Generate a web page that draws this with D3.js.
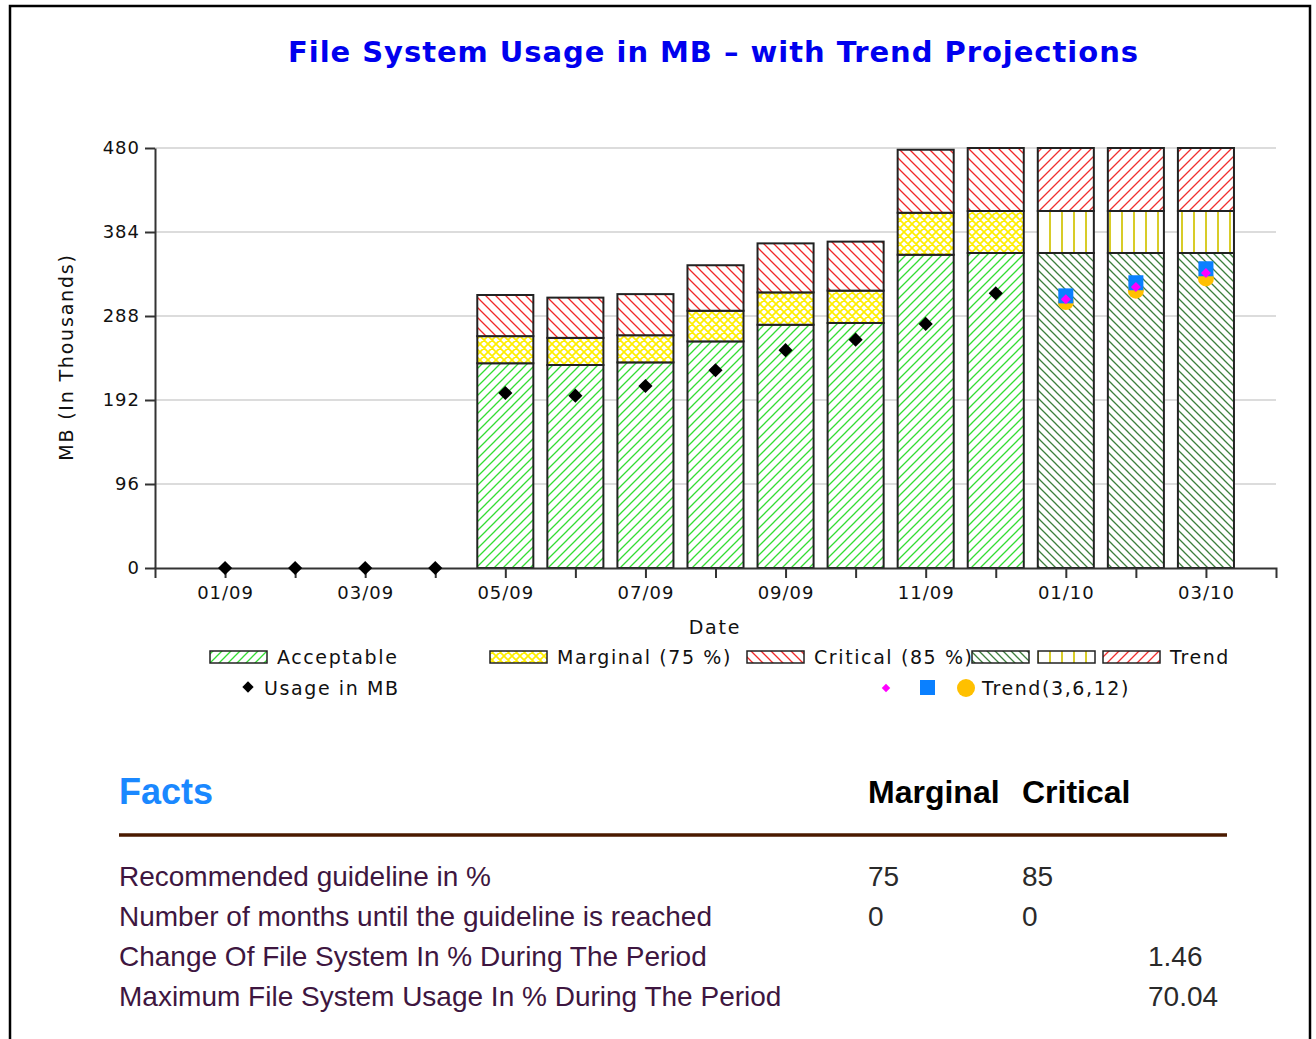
<!DOCTYPE html>
<html lang="en">
  <head>
    <meta charset="utf-8">
    <title>File System Usage in MB</title>
    <script src="https://d3js.org/d3.v7.min.js"></script>
    <style>
      body { margin: 0; background: #fff; }
      .chart text { font-family: "DejaVu Sans", sans-serif; }
      .facts text { font-family: "Liberation Sans", Arial, sans-serif; }
    </style>
  </head>
  <body>
    <div id="chart"></div>
    <script type="text/javascript">
      // months on the x axis, the last three are projections
      const months = ["01/09", "02/09", "03/09", "04/09", "05/09", "06/09", "07/09", "08/09",
                      "09/09", "10/09", "11/09", "12/09", "01/10", "02/10", "03/10"];
      const trendMonths = ["01/10", "02/10", "03/10"];

      // stacked thresholds, in thousands of MB
      const acceptable = [0, 0, 0, 0, 234, 232, 235, 259, 278, 280, 358, 360, 360, 360, 360];
      const marginal   = [0, 0, 0, 0, 31, 31, 31, 35, 37, 37, 48, 48, 48, 48, 48];
      const critical   = [0, 0, 0, 0, 47, 46, 47, 52, 56, 56, 72, 72, 72, 72, 72];

      // measured usage (first twelve months) and the trend projections
      const usage   = [0, 0, 0, 0, 200, 197, 208, 226, 249, 261, 279, 314];
      const trend3  = [307, 321, 337];
      const trend6  = [311, 326, 342];
      const trend12 = [304, 317, 331];

      const yTicks = [0, 96, 192, 288, 384, 480];

      const legendLabels = ["Acceptable", "Marginal (75 %)", "Critical (85 %)", "", "", "Trend"];
      const legendMarkerLabels = ["Usage in MB", "Trend(3,6,12)"];

      const factHeaders = ["Facts", "Marginal", "Critical"];
      const factLabels = ["Recommended guideline in %",
                          "Number of months until the guideline is reached",
                          "Change Of File System In % During The Period",
                          "Maximum File System Usage In % During The Period"];
      const factMarginal = ["75", "0", "", ""];
      const factCritical = ["85", "0", "", ""];
      const factPeriod   = ["", "", "1.46", "70.04"];

      function drawChart() {
          const W = 1316, H = 1039;
          const left = 155, right = 1276, top = 148, bottom = 568;

          const svg = d3.select("#chart")
              .append("svg")
              .attr("class", "chart")
              .attr("width", W)
              .attr("height", H);

          svg.append("rect")
              .attr("x", 10).attr("y", 6)
              .attr("width", 1300).attr("height", 1050)
              .attr("fill", "#fff")
              .attr("stroke", "#000")
              .attr("stroke-width", 2.5);

          // hatch patterns
          const defs = svg.append("defs");
          function pattern(id, size, color, width, d) {
              const p = defs.append("pattern")
                  .attr("id", id)
                  .attr("patternUnits", "userSpaceOnUse")
                  .attr("width", size)
                  .attr("height", size);
              p.append("rect").attr("width", size).attr("height", size).attr("fill", "#fff");
              p.append("path")
                  .attr("d", d)
                  .attr("stroke", color)
                  .attr("stroke-width", width)
                  .attr("fill", "none");
          }
          const fwd = s => `M-1,1 L1,-1 M0,${s} L${s},0 M${s - 1},${s + 1} L${s + 1},${s - 1}`;
          const back = s => `M-1,${s - 1} L1,${s + 1} M0,0 L${s},${s} M${s - 1},-1 L${s + 1},1`;
          pattern("acc", 9, "#33dd33", 1.3, fwd(9));
          pattern("mar", 8, "#ffee00", 1.7, fwd(8) + back(8));
          pattern("cri", 10, "#f02828", 1.3, back(10));
          pattern("tacc", 8, "#3d7f3d", 1.3, back(8));
          pattern("tmar", 12, "#d8cc28", 2, "M6,0 V12");
          pattern("tcri", 10, "#f03030", 1.3, fwd(10));

          const x = d3.scalePoint()
              .domain(months)
              .range([left, right])
              .padding(1);

          const y = d3.scaleLinear()
              .domain([0, 480])
              .range([bottom, top]);

          const bw = x.step() * 0.8;

          // grid
          svg.append("g")
              .selectAll("line")
              .data(yTicks.filter(v => v > 0))
              .join("line")
              .attr("x1", left).attr("x2", right)
              .attr("y1", d => y(d)).attr("y2", d => y(d))
              .attr("stroke", "#dcdcdc")
              .attr("stroke-width", 2);

          // stacked bars
          const table = months.map((m, i) => ({
              month: m, acceptable: acceptable[i], marginal: marginal[i], critical: critical[i]
          }));
          const keys = ["acceptable", "marginal", "critical"];
          const stacked = d3.stack().keys(keys)(table);
          const fills = {acceptable: ["acc", "tacc"], marginal: ["mar", "tmar"], critical: ["cri", "tcri"]};

          svg.append("g")
              .selectAll("g")
              .data(stacked)
              .join("g")
              .each(function(layer) {
                  d3.select(this).selectAll("rect")
                      .data(layer.filter(d => d[1] > d[0]))
                      .join("rect")
                      .attr("x", d => x(d.data.month) - bw / 2)
                      .attr("width", bw)
                      .attr("y", d => y(d[1]))
                      .attr("height", d => y(d[0]) - y(d[1]))
                      .attr("fill", d => "url(#" + fills[layer.key][trendMonths.includes(d.data.month) ? 1 : 0] + ")")
                      .attr("stroke", "#222")
                      .attr("stroke-width", 2);
              });

          // axes
          const xAxis = svg.append("g")
              .attr("transform", `translate(0,${bottom})`)
              .call(d3.axisBottom(x).tickSize(10).tickSizeOuter(10).tickPadding(8));
          xAxis.selectAll(".tick text")
              .style("display", (d, i) => i % 2 === 0 ? null : "none");

          const yAxis = svg.append("g")
              .attr("transform", `translate(${left},0)`)
              .call(d3.axisLeft(y).tickValues(yTicks).tickSize(10).tickSizeOuter(0).tickPadding(5));

          [xAxis, yAxis].forEach(a => {
              a.selectAll("path, line").attr("stroke", "#333").attr("stroke-width", 2);
              a.selectAll("text")
                  .attr("font-family", "DejaVu Sans")
                  .attr("font-size", 18)
                  .attr("letter-spacing", 1)
                  .attr("fill", "#111");
          });

          // usage markers
          const diamond = s => d3.symbol(d3.symbolSquare, s)();
          svg.append("g")
              .selectAll("path")
              .data(usage)
              .join("path")
              .attr("d", diamond(100))
              .attr("transform", (d, i) => `translate(${x(months[i])},${y(d)}) rotate(45)`)
              .attr("fill", "#000");

          // trend markers
          const tg = svg.append("g");
          tg.selectAll("circle")
              .data(trend12)
              .join("circle")
              .attr("cx", (d, i) => x(trendMonths[i]))
              .attr("cy", d => y(d))
              .attr("r", 8)
              .attr("fill", "#ffc000");
          tg.selectAll("rect")
              .data(trend6)
              .join("rect")
              .attr("x", (d, i) => x(trendMonths[i]) - 7.5)
              .attr("y", d => y(d) - 7.5)
              .attr("width", 15).attr("height", 15)
              .attr("fill", "#0a80ff");
          tg.selectAll("path")
              .data(trend3)
              .join("path")
              .attr("d", diamond(50))
              .attr("transform", (d, i) => `translate(${x(trendMonths[i])},${y(d)}) rotate(45)`)
              .attr("fill", "#ff00ff");

          // titles
          svg.append("text")
              .attr("x", 713).attr("y", 62)
              .attr("text-anchor", "middle")
              .attr("font-size", 29)
              .attr("font-weight", "bold")
              .attr("textLength", 850)
              .attr("lengthAdjust", "spacing")
              .attr("fill", "#0000ee")
              .text("File System Usage in MB \u2013 with Trend Projections");

          svg.append("text")
              .attr("transform", "translate(73,357) rotate(-90)")
              .attr("text-anchor", "middle")
              .attr("font-size", 19)
              .attr("letter-spacing", 1.8)
              .attr("fill", "#111")
              .text("MB (In Thousands)");

          svg.append("text")
              .attr("x", 715).attr("y", 634)
              .attr("text-anchor", "middle")
              .attr("font-size", 19)
              .attr("letter-spacing", 1.8)
              .attr("fill", "#111")
              .text("Date");

          // legend
          const swatchX = [210, 490, 747, 972, 1038, 1103];
          const swatchFill = ["acc", "mar", "cri", "tacc", "tmar", "tcri"];
          const lg = svg.append("g");
          lg.selectAll("rect")
              .data(swatchFill)
              .join("rect")
              .attr("x", (d, i) => swatchX[i]).attr("y", 651)
              .attr("width", 57).attr("height", 12)
              .attr("fill", d => `url(#${d})`)
              .attr("stroke", "#222")
              .attr("stroke-width", 1.5);
          lg.selectAll("text.l1")
              .data(legendLabels)
              .join("text")
              .attr("class", "l1")
              .attr("x", (d, i) => swatchX[i] + 67).attr("y", 664)
              .attr("font-size", 19)
              .attr("letter-spacing", 1.6)
              .attr("fill", "#111")
              .text(d => d);

          lg.append("path")
              .attr("d", diamond(64))
              .attr("transform", "translate(248,687) rotate(45)")
              .attr("fill", "#000");
          lg.append("path")
              .attr("d", diamond(36))
              .attr("transform", "translate(886,688) rotate(45)")
              .attr("fill", "#ff00ff");
          lg.append("rect")
              .attr("x", 920).attr("y", 680).attr("width", 15).attr("height", 15)
              .attr("fill", "#0a80ff");
          lg.append("circle")
              .attr("cx", 966).attr("cy", 688).attr("r", 9)
              .attr("fill", "#ffc000");
          lg.selectAll("text.l2")
              .data(legendMarkerLabels)
              .join("text")
              .attr("class", "l2")
              .attr("x", (d, i) => [264, 982][i]).attr("y", 695)
              .attr("font-size", 19)
              .attr("letter-spacing", 1.6)
              .attr("fill", "#111")
              .text(d => d);

          // facts table
          const facts = svg.append("g").attr("class", "facts");
          facts.append("text")
              .attr("x", 119).attr("y", 804)
              .attr("font-size", 36)
              .attr("font-weight", "bold")
              .attr("fill", "#1a88ff")
              .text(factHeaders[0]);
          facts.selectAll("text.hd")
              .data(factHeaders.slice(1))
              .join("text")
              .attr("class", "hd")
              .attr("x", (d, i) => [868, 1022][i]).attr("y", 803)
              .attr("font-size", 32)
              .attr("font-weight", "bold")
              .attr("fill", "#000")
              .text(d => d);

          facts.append("line")
              .attr("x1", 119).attr("x2", 1227)
              .attr("y1", 835).attr("y2", 835)
              .attr("stroke", "#4a1a00")
              .attr("stroke-width", 3.5);

          const rowY = i => 886 + i * 40;
          facts.selectAll("text.lab")
              .data(factLabels)
              .join("text")
              .attr("class", "lab")
              .attr("x", 119).attr("y", (d, i) => rowY(i))
              .attr("font-size", 28)
              .attr("fill", "#3e1640")
              .text(d => d);
          [[factMarginal, 868], [factCritical, 1022], [factPeriod, 1148]].forEach(([col, cx]) => {
              facts.append("g")
                  .selectAll("text")
                  .data(col)
                  .join("text")
                  .attr("x", cx).attr("y", (d, i) => rowY(i))
                  .attr("font-size", 28)
                  .attr("fill", "#2a2a2a")
                  .text(d => d);
          });
      }

      drawChart();
    </script>
  </body>
</html>
